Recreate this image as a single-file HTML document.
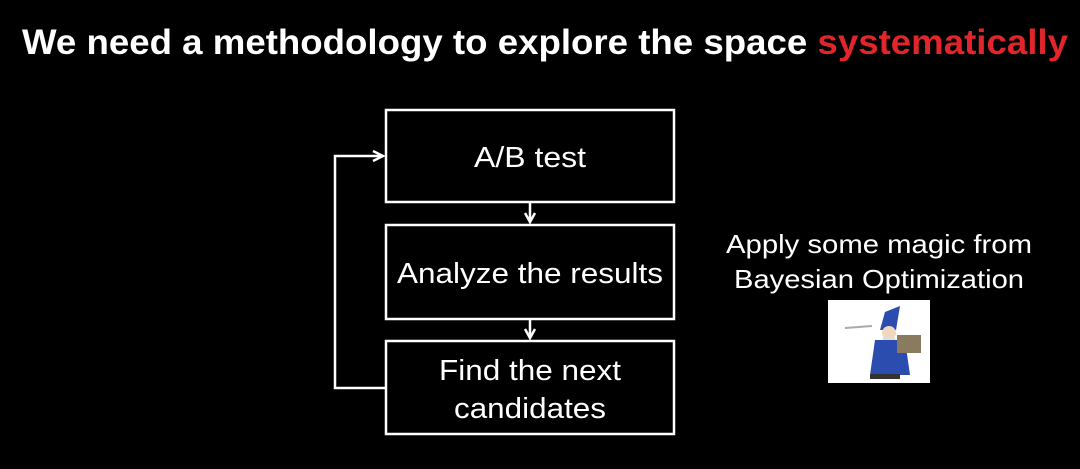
<!DOCTYPE html>
<html><head><meta charset="utf-8"><style>
html,body{margin:0;padding:0;background:#000;}
svg{display:block;}
text{font-family:"Liberation Sans",Arial,sans-serif;}
</style></head><body>
<svg width="1080" height="469" viewBox="0 0 1080 469" xmlns="http://www.w3.org/2000/svg">
<rect width="1080" height="469" fill="#000"/>
<text x="22" y="54" font-size="35" font-weight="bold" fill="#fff" textLength="1046" lengthAdjust="spacingAndGlyphs">We need a methodology to explore the space <tspan fill="#e0262b">systematically</tspan></text>
<g fill="none" stroke="#fff" stroke-width="2.5">
<rect x="386" y="110" width="288" height="92"/>
<rect x="386" y="225" width="288" height="94"/>
<rect x="386" y="341" width="288" height="93"/>
<polyline points="386,388 335,388 335,156 382,156"/>
<line x1="530" y1="202" x2="530" y2="222"/>
<line x1="530" y1="319" x2="530" y2="338"/>
<polyline points="373,151 383,156 373,161"/>
<polyline points="525,213 530,222 535,213"/>
<polyline points="525,329 530,338 535,329"/>
</g>
<g fill="#fff" font-size="29" text-anchor="middle">
<text x="530" y="167" textLength="112" lengthAdjust="spacingAndGlyphs">A/B test</text>
<text x="530" y="283" textLength="266" lengthAdjust="spacingAndGlyphs">Analyze the results</text>
<text x="530" y="380" textLength="182" lengthAdjust="spacingAndGlyphs">Find the next</text>
<text x="530" y="418" textLength="152" lengthAdjust="spacingAndGlyphs">candidates</text>
<text x="879" y="253" font-size="26" textLength="306" lengthAdjust="spacingAndGlyphs">Apply some magic from</text>
<text x="879" y="288" font-size="26" textLength="290" lengthAdjust="spacingAndGlyphs">Bayesian Optimization</text>
</g>
<rect x="828" y="300" width="102" height="83" fill="#fff"/>
<g>
<polygon points="885,312 900,306 896,330 880,330" fill="#2b4db0"/>
<circle cx="889" cy="333" r="7" fill="#f0d8c0"/>
<path d="M882,338 Q889,352 896,338" fill="#ddd"/>
<polygon points="875,340 905,340 910,375 870,375" fill="#2b4db0"/>
<rect x="897" y="335" width="24" height="18" fill="#8a7a60"/>
<line x1="845" y1="328" x2="872" y2="326" stroke="#aaa" stroke-width="2"/>
<rect x="870" y="374" width="30" height="5" fill="#333"/>
</g>
</svg>
</body></html>
